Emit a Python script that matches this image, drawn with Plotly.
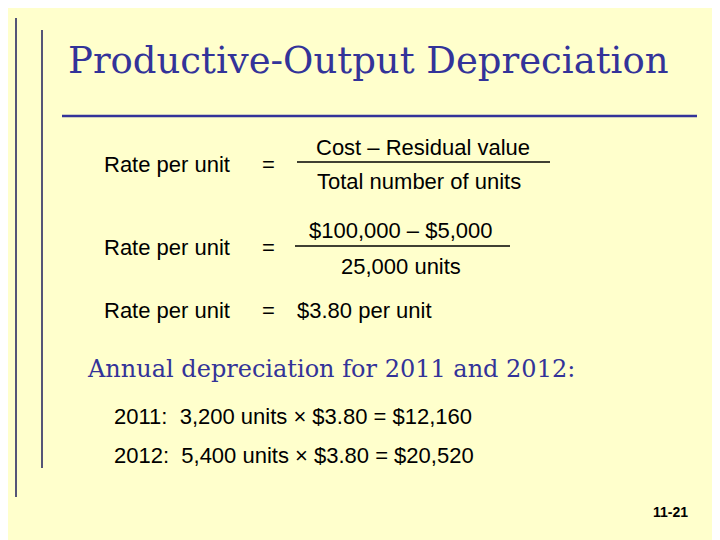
import plotly.graph_objects as go

title = "Productive-Output Depreciation"
cost = 100000
residual = 5000
total_units = 25000
rate = 3.80
years = ["2011", "2012"]
units = [3200, 5400]
depreciation = [12160, 20520]
page = "11-21"

fig = go.Figure()
W, H = 720, 540
OFF = 8  # page body margin
bg = "#FFFFCC"
navy = "#333399"
sans = "Liberation Sans, Arial"
serif = "DejaVu Serif, serif"

def txt(x, y, s, size=26, color="black", font=sans, anchor="left"):
    fig.add_annotation(x=x, y=y, text=s, showarrow=False, xanchor=anchor, yanchor="middle",
                       font=dict(size=size, color=color, family=font))

def line(x0, y0, x1, y1, color="black", w=1.5):
    fig.add_shape(type="line", x0=x0, y0=y0, x1=x1, y1=y1, line=dict(color=color, width=w))

line(16, 18, 16, 497, "#555577", 2)
line(42, 30, 42, 468, "#555577", 2)
line(62, 116, 697, 116, navy, 2.5)

txt(66, 60, title, 37, navy, serif)

for yy in (164, 247):
    txt(102, yy, "Rate per unit", 22)
    txt(260, yy, "=", 22)
txt(423, 147, "Cost – Residual value", 22, anchor="center")
line(297, 162, 550, 162)
txt(419, 181, "Total number of units", 22, anchor="center")

txt(401, 230, f"${cost:,} – ${residual:,}", 22, anchor="center")
line(295, 246, 510, 246)
txt(401, 266, f"{total_units:,} units", 22, anchor="center")

txt(102, 310, "Rate per unit", 22)
txt(260, 310, "=", 22)
txt(295, 310, f"${rate:.2f} per unit", 22)

txt(85, 369, f"Annual depreciation for {years[0]} and {years[1]}:", 24, navy, serif)
for i, (yr, u, d) in enumerate(zip(years, units, depreciation)):
    txt(112, 416 + 39 * i, f"{yr}:  {u:,} units × ${rate:.2f} = ${d:,}", 22)

fig.add_annotation(x=690, y=512, text=f"<b>{page}</b>", showarrow=False, xanchor="right",
                   yanchor="middle", font=dict(size=14, color="black", family=sans))

fig.update_xaxes(range=[OFF, W + OFF], visible=False, fixedrange=True)
fig.update_yaxes(range=[H + OFF, OFF], visible=False, fixedrange=True)
fig.update_layout(width=W, height=H, margin=dict(l=0, r=0, t=0, b=0),
                  paper_bgcolor=bg, plot_bgcolor=bg, showlegend=False)
fig.write_html("out.html")
